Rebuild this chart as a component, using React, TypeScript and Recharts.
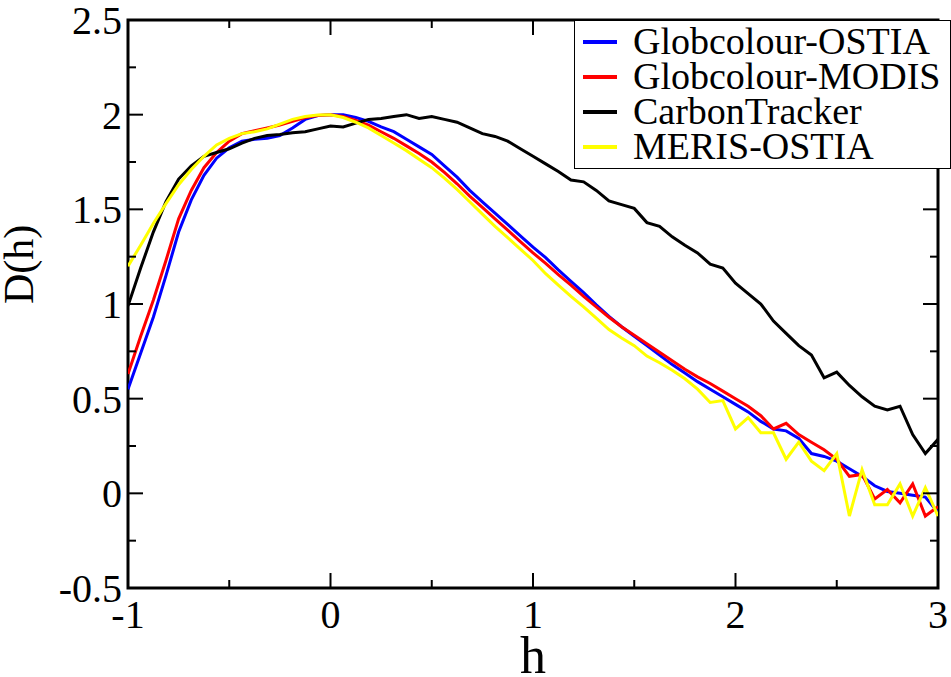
import React from "react";
import { LineChart, Line, XAxis, YAxis, ReferenceArea, Legend } from "recharts";

// h grid (step 1/16)
const hValues = [
  -1, -0.9375, -0.875, -0.8125, -0.75, -0.6875, -0.625, -0.5625, -0.5, -0.4375, -0.375, -0.3125, -0.25, -0.1875, -0.125, -0.0625,
  0, 0.0625, 0.125, 0.1875, 0.25, 0.3125, 0.375, 0.4375, 0.5, 0.5625, 0.625, 0.6875, 0.75, 0.8125, 0.875, 0.9375,
  1, 1.0625, 1.125, 1.1875, 1.25, 1.3125, 1.375, 1.4375, 1.5, 1.5625, 1.625, 1.6875, 1.75, 1.8125, 1.875, 1.9375,
  2, 2.0625, 2.125, 2.1875, 2.25, 2.3125, 2.375, 2.4375, 2.5, 2.5625, 2.625, 2.6875, 2.75, 2.8125, 2.875, 2.9375,
  3,
];

const globcolourOstia = [
  0.55, 0.74, 0.93, 1.15, 1.38, 1.55, 1.68, 1.77, 1.825, 1.86, 1.87, 1.875, 1.89, 1.93, 1.975, 1.995,
  2.0, 2.0, 1.985, 1.965, 1.935, 1.91, 1.87, 1.83, 1.79, 1.73, 1.67, 1.6, 1.54, 1.48, 1.42, 1.36,
  1.3, 1.245, 1.18, 1.12, 1.06, 0.995, 0.935, 0.88, 0.83, 0.78, 0.73, 0.68, 0.635, 0.59, 0.55, 0.51,
  0.47, 0.43, 0.38, 0.34, 0.33, 0.29, 0.21, 0.195, 0.17, 0.13, 0.09, 0.04, 0.01, 0.0, -0.01, -0.02,
  -0.1,
];

const globcolourModis = [
  0.63, 0.83, 1.02, 1.23, 1.45, 1.6, 1.72, 1.8, 1.86, 1.9, 1.915, 1.93, 1.945, 1.965, 1.985, 1.995,
  2.0, 1.99, 1.97, 1.945, 1.91, 1.875, 1.835, 1.795, 1.75, 1.695, 1.635, 1.57, 1.51, 1.45, 1.39, 1.33,
  1.27, 1.215, 1.155, 1.1, 1.04, 0.985, 0.93, 0.88, 0.835, 0.79, 0.745, 0.7, 0.655, 0.615, 0.58, 0.54,
  0.5, 0.46, 0.41, 0.34, 0.37, 0.31, 0.27, 0.23, 0.18, 0.09, 0.1, -0.03, 0.02, -0.05, 0.05, -0.12,
  -0.07,
];

const carbonTracker = [
  0.99, 1.19, 1.38, 1.54, 1.66, 1.73, 1.78, 1.8, 1.82, 1.85, 1.875, 1.89, 1.895, 1.905, 1.91, 1.925,
  1.94, 1.935, 1.955, 1.975, 1.98, 1.99, 2.0, 1.98, 1.99, 1.975, 1.96, 1.93, 1.9, 1.885, 1.86, 1.82,
  1.78, 1.74, 1.7, 1.655, 1.645, 1.6, 1.545, 1.525, 1.505, 1.43, 1.41, 1.355, 1.31, 1.27, 1.21, 1.19,
  1.11, 1.055, 1.0, 0.91, 0.845, 0.78, 0.73, 0.61, 0.64, 0.57, 0.51, 0.46, 0.44, 0.46, 0.31, 0.21,
  0.285,
];

const merisOstia = [
  1.2, 1.31, 1.425, 1.53, 1.63, 1.71, 1.78, 1.84, 1.875, 1.9, 1.91, 1.925, 1.95, 1.975, 1.99, 1.998,
  2.0, 1.985, 1.96, 1.93, 1.89, 1.85, 1.81, 1.765, 1.72, 1.665, 1.605, 1.54, 1.475, 1.41, 1.35, 1.29,
  1.23, 1.16, 1.1, 1.04, 0.985, 0.925, 0.865, 0.82, 0.78, 0.725, 0.69, 0.65, 0.605, 0.55, 0.48, 0.49,
  0.34, 0.4, 0.32, 0.32, 0.18, 0.27, 0.17, 0.12, 0.21, -0.12, 0.125, -0.06, -0.06, 0.05, -0.12, 0.03,
  -0.12,
];

const xTicks = [-1, -0.5, 0, 0.5, 1, 1.5, 2, 2.5, 3];
const yTicks = [-0.5, -0.25, 0, 0.25, 0.5, 0.75, 1, 1.25, 1.5, 1.75, 2, 2.25, 2.5];
const yLabels = ["-0.5", "0", "0.5", "1", "1.5", "2", "2.5"];

const series = [
  { key: "go", name: "Globcolour-OSTIA", color: "#0000ff", values: globcolourOstia },
  { key: "gm", name: "Globcolour-MODIS", color: "#ff0000", values: globcolourModis },
  { key: "ct", name: "CarbonTracker", color: "#000000", values: carbonTracker },
  { key: "mo", name: "MERIS-OSTIA", color: "#ffff00", values: merisOstia },
];

const data = hValues.map((h, i) => {
  const row: Record<string, number> = { h };
  series.forEach((s) => (row[s.key] = s.values[i]));
  return row;
});

const W = 951;
const H = 677;
const M = { top: 20, right: 13, left: 0, bottom: 0 };
const Y_AXIS_W = 128;
const X_AXIS_H = 89;
const PLOT_TOP = M.top;
const PLOT_RIGHT = W - M.right;
const FONT = "'Liberation Serif', 'Times New Roman', serif";

function XTick(props: any) {
  const { x, y, payload } = props;
  const major = Number.isInteger(payload.value);
  const len = major ? 15 : 8;
  return (
    <g>
      <line x1={x} x2={x} y1={y} y2={y - len} stroke="#000" strokeWidth={2} />
      <line x1={x} x2={x} y1={PLOT_TOP} y2={PLOT_TOP + len} stroke="#000" strokeWidth={2} />
      {major && (
        <text x={x} y={y + 40} textAnchor="middle" fontSize={40} fontFamily={FONT} fill="#000">
          {payload.value}
        </text>
      )}
    </g>
  );
}

function YTick(props: any) {
  const { x, y, payload } = props;
  const label = String(payload.value);
  const major = yLabels.includes(label);
  const len = major ? 15 : 8;
  return (
    <g>
      <line x1={x} x2={x + len} y1={y} y2={y} stroke="#000" strokeWidth={2} />
      <line x1={PLOT_RIGHT} x2={PLOT_RIGHT - len} y1={y} y2={y} stroke="#000" strokeWidth={2} />
      {major && (
        <text x={x - 6} y={y + 14} textAnchor="end" fontSize={40} fontFamily={FONT} fill="#000">
          {label}
        </text>
      )}
    </g>
  );
}

// legend keeps the series order (recharts would sort it by name)
function LegendBox() {
  return (
    <div
      style={{
        boxSizing: "border-box",
        width: 377,
        height: 149,
        border: "1.5px solid #000",
        background: "#fff",
        paddingTop: 3,
        fontFamily: FONT,
      }}
    >
      {series.map((s) => (
        <div key={s.key} style={{ display: "flex", alignItems: "center", height: 35 }}>
          <div style={{ width: 34, height: 4, background: s.color, marginLeft: 8, marginRight: 16 }} />
          <span style={{ fontSize: 38, lineHeight: "35px", color: "#000" }}>{s.name}</span>
        </div>
      ))}
    </div>
  );
}

export default function App() {
  return (
    <div style={{ position: "absolute", left: 0, top: 0, background: "#fff" }}>
      <LineChart width={W} height={H} data={data} margin={M}>
        <XAxis
          dataKey="h"
          type="number"
          domain={[-1, 3]}
          ticks={xTicks}
          interval={0}
          height={X_AXIS_H}
          tickSize={0}
          tickMargin={0}
          tickLine={false}
          axisLine={false}
          tick={<XTick />}
          allowDataOverflow
          label={{ value: "h", position: "insideBottom", offset: 4, fontSize: 52, fontFamily: FONT, fill: "#000" }}
        />
        <YAxis
          type="number"
          domain={[-0.5, 2.5]}
          ticks={yTicks}
          interval={0}
          width={Y_AXIS_W}
          tickSize={0}
          tickMargin={0}
          tickLine={false}
          axisLine={false}
          tick={<YTick />}
          allowDataOverflow
          label={{ value: "D(h)", angle: -90, position: "insideLeft", offset: 18, fontSize: 42, fontFamily: FONT, fill: "#000" }}
        />
        <ReferenceArea x1={-1} x2={3} y1={-0.5} y2={2.5} fill="none" stroke="#000" strokeWidth={3} />
        {series.map((s) => (
          <Line
            key={s.key}
            dataKey={s.key}
            name={s.name}
            stroke={s.color}
            strokeWidth={3}
            dot={false}
            type="linear"
            isAnimationActive={false}
          />
        ))}
        <Legend
          layout="horizontal"
          verticalAlign="middle"
          align="center"
          content={<LegendBox />}
          wrapperStyle={{ position: "absolute", left: 574, top: 20, width: 377, height: 149 }}
        />
      </LineChart>
    </div>
  );
}
